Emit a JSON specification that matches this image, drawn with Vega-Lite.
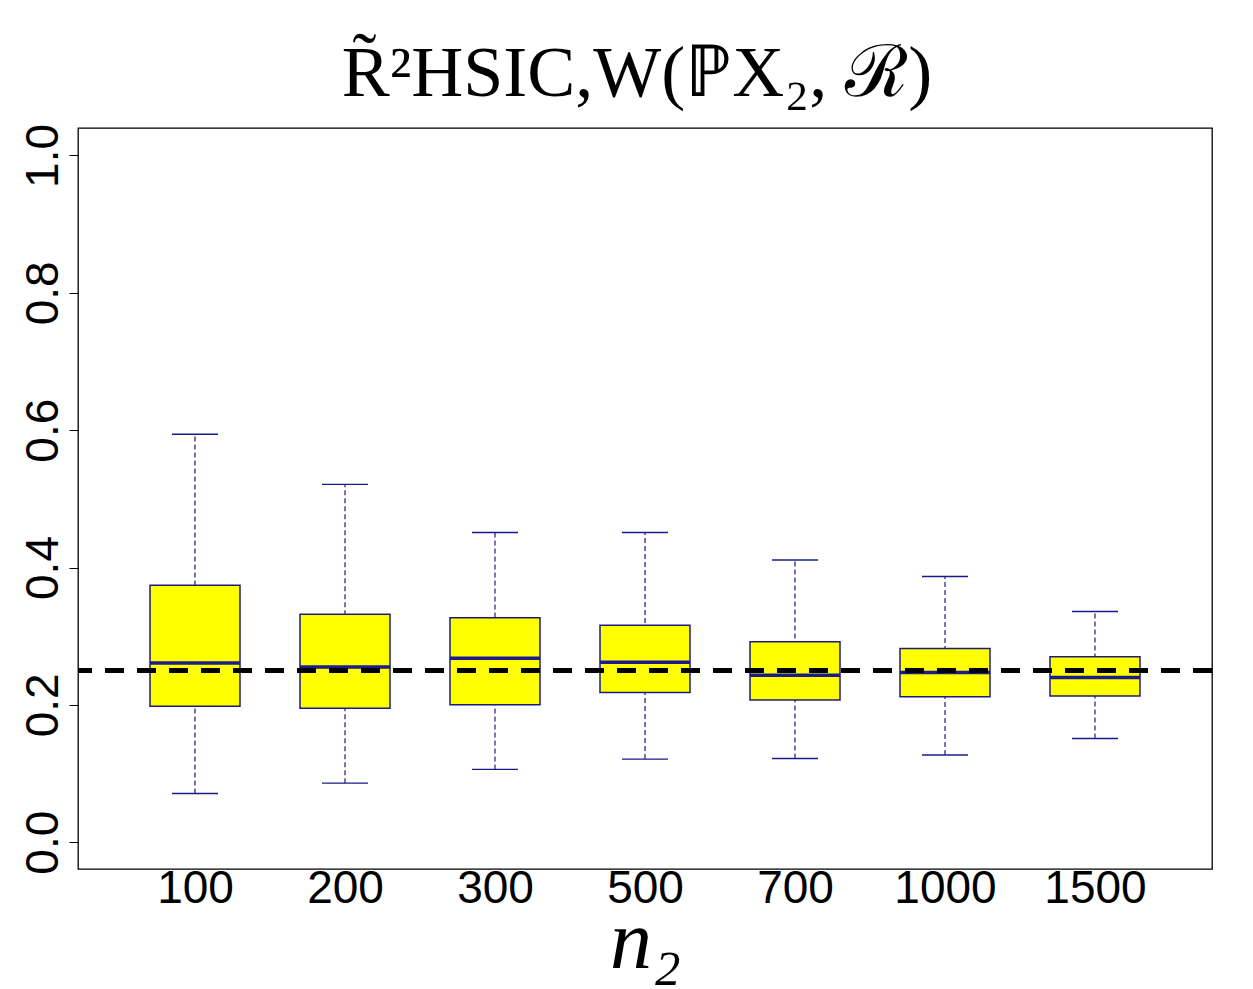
{
  "$schema": "https://vega.github.io/schema/vega-lite/v6.json",
  "width": 1134,
  "height": 741,
  "autosize": {"type": "none"},
  "padding": {"left": 78, "top": 128, "right": 41, "bottom": 120},
  "background": "white",
  "title": {
    "text": "R̃²HSIC,W(ℙX₂, ℛ)",
    "font": "Liberation Serif",
    "fontSize": 72,
    "fontWeight": "normal",
    "color": "black",
    "anchor": "middle",
    "dx": -8,
    "offset": 12
  },
  "data": {
    "values": [
      {"n": "100", "lower": 0.071, "q1": 0.198, "median": 0.261, "q3": 0.374, "upper": 0.594},
      {"n": "200", "lower": 0.086, "q1": 0.195, "median": 0.255, "q3": 0.332, "upper": 0.521},
      {"n": "300", "lower": 0.106, "q1": 0.200, "median": 0.268, "q3": 0.327, "upper": 0.451},
      {"n": "500", "lower": 0.121, "q1": 0.218, "median": 0.262, "q3": 0.316, "upper": 0.451},
      {"n": "700", "lower": 0.122, "q1": 0.207, "median": 0.243, "q3": 0.292, "upper": 0.411},
      {"n": "1000", "lower": 0.127, "q1": 0.212, "median": 0.247, "q3": 0.282, "upper": 0.387},
      {"n": "1500", "lower": 0.151, "q1": 0.213, "median": 0.240, "q3": 0.270, "upper": 0.336}
    ]
  },
  "layer": [
    {
      "encoding": {
        "x": {
          "field": "n",
          "type": "ordinal",
          "sort": null,
          "scale": {"type": "point", "padding": 0.78},
          "axis": {
            "title": "n₂",
            "titleFont": "Liberation Serif",
            "titleFontStyle": "italic",
            "titleFontWeight": "normal",
            "titleFontSize": 84,
            "titleColor": "black",
            "titleBaseline": "alphabetic",
            "titlePadding": 56,
            "labelFont": "Liberation Sans",
            "labelFontSize": 46,
            "labelColor": "black",
            "labelAngle": 0,
            "labelPadding": -3,
            "ticks": false,
            "domain": false,
            "grid": false
          }
        }
      },
      "layer": [
        {
          "mark": {"type": "rule", "color": "#1a1a8a", "strokeWidth": 1.2, "strokeDash": [5, 3]},
          "encoding": {
            "y": {
              "field": "lower",
              "type": "quantitative",
              "scale": {"domain": [-0.039, 1.04], "nice": false, "zero": false},
              "axis": {
                "title": null,
                "values": [0, 0.2, 0.4, 0.6, 0.8, 1.0],
                "format": ".1f",
                "labelFont": "Liberation Sans",
                "labelFontSize": 46,
                "labelColor": "black",
                "labelAngle": -90,
                "labelPadding": 2,
                "tickSize": 9,
                "tickColor": "black",
                "tickWidth": 1,
                "domain": false,
                "grid": false
              }
            },
            "y2": {"field": "upper"}
          }
        },
        {
          "mark": {"type": "bar", "width": 90, "fill": "#ffff00", "stroke": "#1c1c80", "strokeWidth": 1.5},
          "encoding": {
            "y": {"field": "q1", "type": "quantitative"},
            "y2": {"field": "q3"}
          }
        },
        {
          "mark": {"type": "tick", "size": 90, "thickness": 3.5, "color": "#1c1c8c", "opacity": 1},
          "encoding": {"y": {"field": "median", "type": "quantitative"}}
        },
        {
          "mark": {"type": "tick", "size": 46, "thickness": 1.4, "color": "#1a1a8a", "opacity": 1},
          "encoding": {"y": {"field": "upper", "type": "quantitative"}}
        },
        {
          "mark": {"type": "tick", "size": 46, "thickness": 1.4, "color": "#1a1a8a", "opacity": 1},
          "encoding": {"y": {"field": "lower", "type": "quantitative"}}
        }
      ]
    },
    {
      "mark": {"type": "rule", "color": "black", "strokeWidth": 4, "strokeDash": [19, 13]},
      "encoding": {"y": {"datum": 0.25}}
    }
  ],
  "config": {
    "view": {"stroke": "black", "strokeWidth": 1.3}
  }
}
